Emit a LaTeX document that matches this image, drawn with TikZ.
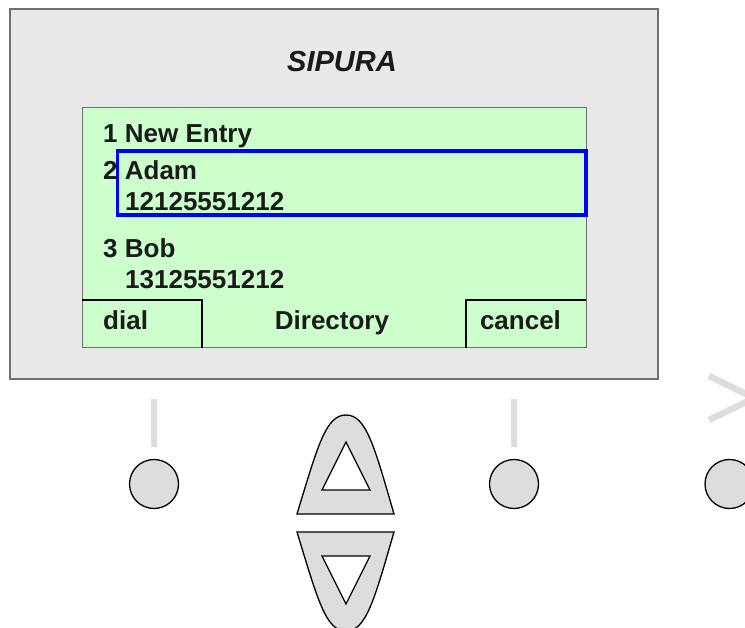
\documentclass[tikz,border=0pt]{standalone}
\usepackage{fontspec}
\setmainfont{Liberation Sans}
\definecolor{panelgray}{HTML}{E9E9E9}
\definecolor{bordergray}{HTML}{707070}
\definecolor{lcdgreen}{HTML}{CCFFCC}
\definecolor{selblue}{HTML}{0000FF}
\definecolor{btngray}{HTML}{DDDDDD}
\definecolor{txt}{HTML}{1A1A1A}
\begin{document}
\begin{tikzpicture}[x=1pt,y=-1pt,
  lcdtext/.style={anchor=base west,inner sep=0pt,text=txt,font=\fontsize{26}{30}\selectfont\bfseries},
  lcdctr/.style={anchor=base,inner sep=0pt,text=txt,font=\fontsize{26}{30}\selectfont\bfseries},
  btn/.style={circle,draw=black,line width=1.3pt,fill=btngray,minimum size=49pt,inner sep=0pt},
  bar/.style={draw=btngray,line width=6pt},
  arrowbtn/.style={draw=black,line width=1.3pt,fill=btngray},
  arrowin/.style={draw=black,line width=1.3pt,fill=white,line join=miter}]
\useasboundingbox (0,0) rectangle (745,628);
\fill[white] (0,0) rectangle (745,628);
% phone panel
\draw[fill=panelgray,draw=bordergray,line width=1.3pt] (10,9) rectangle (658,379);
\node[anchor=base,inner sep=0pt,text=txt,font=\fontsize{29}{34}\selectfont\bfseries\itshape] (brand) at (342,72) {SIPURA};
% screen
\draw[fill=lcdgreen,draw=bordergray,line width=1pt] (82,108) rectangle (586,348);
\draw[selblue,line width=3.5pt] (117.5,151) rectangle (586,215);
\node[lcdtext] (e1) at (103,143) {1 New Entry};
\node[lcdtext] (e2) at (103,180) {2 Adam};
\node[lcdtext] (e2n) at (125,211) {12125551212};
\node[lcdtext] (e3) at (103,258) {3 Bob};
\node[lcdtext] (e3n) at (125,289) {13125551212};
\draw[black,line width=1.7pt] (82,300) -- (202,300) -- (202,348);
\draw[black,line width=1.7pt] (586,300) -- (466,300) -- (466,348);
\node[lcdtext] (dial) at (103,330) {dial};
\node[lcdctr] (title) at (332,330) {Directory};
\node[lcdctr] (cancel) at (520.5,330) {cancel};
% buttons
\draw[bar] (154,399) -- (154,447);
\draw[bar] (514,399) -- (514,447);
\node[btn] (b1) at (154,484) {};
\node[btn] (b2) at (514,484) {};
\node[btn] (b3) at (729.5,484) {};
\draw[btngray,line width=6.5pt,line join=miter] (709,376) -- (754,398) -- (709,420);
% navigation arrows
\draw[arrowbtn] (297,514) .. controls (318,445) and (326,415) .. (346,415)
  .. controls (366,415) and (374,445) .. (394,514) -- cycle;
\draw[arrowin] (346,442) -- (370,490) -- (322,490) -- cycle;
\draw[arrowbtn] (297,532) .. controls (318,601) and (326,631) .. (346,631)
  .. controls (366,631) and (374,601) .. (394,532) -- cycle;
\draw[arrowin] (322,556) -- (370,556) -- (346,604) -- cycle;
\end{tikzpicture}
\end{document}
